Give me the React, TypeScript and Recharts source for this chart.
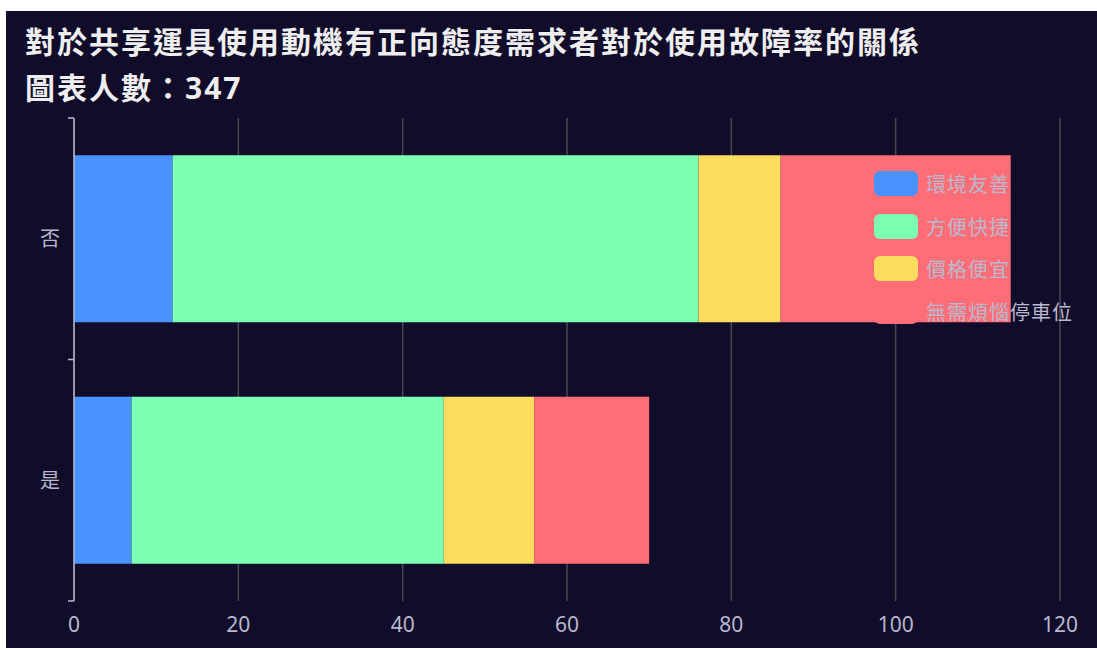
import { BarChart, Bar, XAxis, YAxis, CartesianGrid } from 'recharts'

const CATEGORIES = ['否', '是']
const SERIES = ['環境友善', '方便快捷', '價格便宜', '無需煩惱停車位']
const COLORS = ['#4992ff', '#7cffb2', '#fddd60', '#ff6e76']
const VALUES_NO = [12, 64, 10, 28]
const VALUES_YES = [7, 38, 11, 14]
const X_TICKS = [0, 20, 40, 60, 80, 100, 120]

const TITLE = '對於共享運具使用動機有正向態度需求者對於使用故障率的關係'
const SUBTITLE = '圖表人數：347'

const rows = [VALUES_NO, VALUES_YES]
const data = CATEGORIES.map((name, i) => {
    const row: Record<string, string | number> = { name }
    SERIES.forEach((s, j) => { row[s] = rows[i][j] })
    return row
})

const BG = '#100c2a'
const AXIS = '#B9B8CE'
const GRID = '#484753'
const FONT = "'Noto Sans', 'Noto Sans CJK TC', sans-serif"
const TICK_SIZE = 6
const TICK_MARGIN = 8

function CategoryTick(props: any) {
    const { x, y, payload, index, height } = props
    const band = typeof height === 'number' ? height / CATEGORIES.length : 2 * (payload.offset || 0)
    const axisX = x + TICK_SIZE + TICK_MARGIN
    return (
        <g>
            <line x1={axisX - TICK_SIZE} x2={axisX} y1={y - band / 2} y2={y - band / 2} stroke={AXIS} strokeWidth={1.5} />
            {index === CATEGORIES.length - 1 && (
                <line x1={axisX - TICK_SIZE} x2={axisX} y1={y + band / 2} y2={y + band / 2} stroke={AXIS} strokeWidth={1.5} />
            )}
            <text x={x} y={y} textAnchor="end" dominantBaseline="central" style={{ fill: AXIS, fontSize: 20, fontFamily: FONT }}>
                {payload.value}
            </text>
        </g>
    )
}

export default function App() {
    return (
        <div style={{ position: 'absolute', left: 6, top: 11, width: 1091, height: 637, background: BG, fontFamily: FONT }}>
            <div style={{ position: 'absolute', left: 19, top: 8, color: '#eeeeee', fontWeight: 700, fontSize: 30, letterSpacing: 2, lineHeight: '46px', whiteSpace: 'nowrap', zIndex: 2 }}>
                <div>{TITLE}</div>
                <div>{SUBTITLE}</div>
            </div>
            <BarChart
                width={1091}
                height={637}
                data={data}
                layout="vertical"
                margin={{ top: 107, right: 37, left: 0, bottom: 0 }}
                barCategoryGap="15.4%"
            >
                <CartesianGrid horizontal={false} stroke={GRID} strokeWidth={1.5} />
                <XAxis
                    type="number"
                    domain={[0, 120]}
                    ticks={X_TICKS}
                    height={47}
                    axisLine={false}
                    tickLine={false}
                    tickSize={0}
                    tickMargin={16}
                    tick={{ fill: AXIS, fontSize: 21, fontFamily: FONT }}
                />
                <YAxis
                    type="category"
                    dataKey="name"
                    width={68}
                    axisLine={{ stroke: AXIS, strokeWidth: 1.5 }}
                    tickLine={false}
                    tickSize={TICK_SIZE}
                    tickMargin={TICK_MARGIN}
                    tick={<CategoryTick />}
                    interval={0}
                />
                {SERIES.map((s, i) => (
                    <Bar key={s} dataKey={s} stackId="a" fill={COLORS[i]} isAnimationActive={false} />
                ))}
            </BarChart>
            <div style={{ position: 'absolute', left: 868, top: 160, zIndex: 2 }}>
                {SERIES.map((s, i) => (
                    <div key={s} style={{ display: 'flex', alignItems: 'center', height: 25, marginBottom: 17.5 }}>
                        <div style={{ width: 44, height: 25, borderRadius: 6, background: COLORS[i] }} />
                        <span style={{ marginLeft: 8, color: AXIS, fontSize: 20, letterSpacing: 1, whiteSpace: 'nowrap' }}>{s}</span>
                    </div>
                ))}
            </div>
        </div>
    )
}
